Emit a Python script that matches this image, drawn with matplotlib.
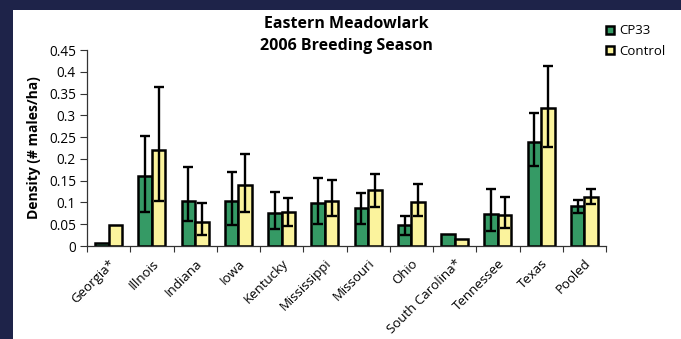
import matplotlib
matplotlib.use("Agg")
import matplotlib.pyplot as plt
from matplotlib.patches import Rectangle
import numpy as np

plt.rcParams['font.family'] = ['Open Sans', 'DejaVu Sans']

# Breeding-season density estimates (males/ha) with confidence limits
states = ["Georgia*", "Illnois", "Indiana", "Iowa", "Kentucky", "Mississippi",
          "Missouri", "Ohio", "South Carolina*", "Tennessee", "Texas", "Pooled"]
cp33 = [0.007, 0.161, 0.103, 0.103, 0.075, 0.099, 0.087, 0.048, 0.028, 0.073, 0.239, 0.091]
cp33_lo = [np.nan, 0.078, 0.057, 0.048, 0.038, 0.050, 0.050, 0.025, np.nan, 0.035, 0.183, 0.076]
cp33_hi = [np.nan, 0.253, 0.181, 0.169, 0.123, 0.157, 0.121, 0.068, np.nan, 0.131, 0.306, 0.105]
control = [0.048, 0.220, 0.055, 0.139, 0.078, 0.104, 0.129, 0.101, 0.015, 0.071, 0.316, 0.113]
control_lo = [np.nan, 0.103, 0.025, 0.078, 0.047, 0.068, 0.089, 0.068, np.nan, 0.041, 0.227, 0.096]
control_hi = [np.nan, 0.365, 0.099, 0.211, 0.110, 0.152, 0.166, 0.143, np.nan, 0.112, 0.413, 0.131]
yticks = [0, 0.05, 0.1, 0.15, 0.2, 0.25, 0.3, 0.35, 0.4, 0.45]
ytick_labels = ["0", "0.05", "0.1", "0.15", "0.2", "0.25", "0.3", "0.35", "0.4", "0.45"]

GREEN = "#359a65"
YELLOW = "#fbf39d"
NAVY = "#1e2349"

fig = plt.figure(figsize=(6.81, 3.39), dpi=100, facecolor=NAVY)
# white panel behind the chart
fig.patches.append(Rectangle((13 / 681, 0), 1 - 13 / 681, (339 - 10) / 339,
                             transform=fig.transFigure, facecolor="white",
                             edgecolor="none", zorder=-10))

ax = fig.add_axes([87 / 681, (339 - 246) / 339, (606 - 87) / 681, (246 - 50) / 339])
ax.set_facecolor("none")
ax.set_zorder(5)

x = np.arange(len(states))
w = 0.31
cp33 = np.array(cp33)
control = np.array(control)


def err(vals, lo, hi):
    lo = np.array(lo)
    hi = np.array(hi)
    e = np.vstack([vals - lo, hi - vals])
    return np.nan_to_num(e, nan=0.0), ~np.isnan(lo)


ax.bar(x - w / 2, cp33, w, color=GREEN, edgecolor="black", linewidth=1.8,
       label="CP33", zorder=2)
ax.bar(x + w / 2, control, w, color=YELLOW, edgecolor="black", linewidth=1.8,
       label="Control", zorder=2)

e1, m1 = err(cp33, cp33_lo, cp33_hi)
ax.errorbar((x - w / 2)[m1], cp33[m1], yerr=e1[:, m1], fmt="none",
            ecolor="black", elinewidth=1.7, capsize=3.8, capthick=1.7, zorder=3)
e2, m2 = err(control, control_lo, control_hi)
ax.errorbar((x + w / 2)[m2], control[m2], yerr=e2[:, m2], fmt="none",
            ecolor="black", elinewidth=1.7, capsize=3.8, capthick=1.7, zorder=3)

ax.set_xlim(-0.5, len(states) - 0.5)
ax.set_ylim(0, 0.45)
ax.set_yticks(yticks)
ax.set_yticklabels(ytick_labels, fontsize=9.8)

# category boundary ticks on the x axis, labels at the category centres
ax.set_xticks(np.arange(len(states) + 1) - 0.5, minor=False)
ax.set_xticklabels([])
ax.set_xticks(x, minor=True)
ax.set_xticklabels(states, minor=True, rotation=45, ha="right", va="top",
                   rotation_mode="anchor", fontsize=9.5)
ax.tick_params(axis="x", which="minor", length=0, pad=8)
ax.tick_params(axis="x", which="major", length=4, width=0.8, color="#333333")
ax.tick_params(axis="y", length=5, width=0.8, color="#333333", pad=3)

for s in ["top", "right"]:
    ax.spines[s].set_visible(False)
for s in ["left", "bottom"]:
    ax.spines[s].set_color("#333333")
    ax.spines[s].set_linewidth(0.9)

ax.set_ylabel("Density (# males/ha)", fontsize=10, fontweight="bold", labelpad=6)
fig.text(346 / 681, 1 - 35 / 339, "Eastern Meadowlark\n2006 Breeding Season",
         ha="center", va="center", fontsize=11.5, fontweight="bold",
         linespacing=1.5)

leg = fig.legend(loc="upper left", bbox_to_anchor=(601 / 681, 1 - 19 / 339),
                 frameon=False, fontsize=9.5, handlelength=0.55, handleheight=0.55,
                 handletextpad=0.45, labelspacing=0.55, borderaxespad=0)

fig.savefig("out.png", dpi=100, facecolor=NAVY)
